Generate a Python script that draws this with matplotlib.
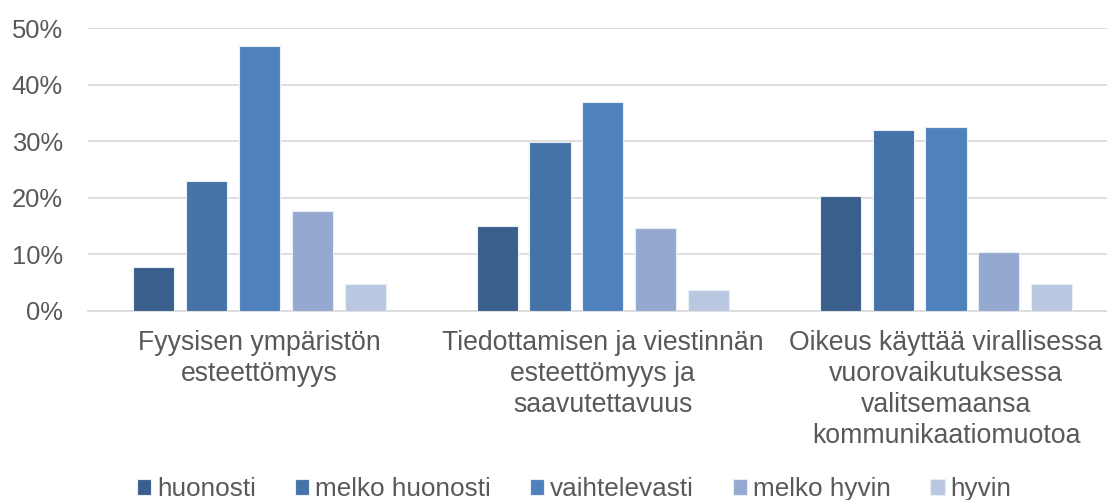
import matplotlib as mpl
import matplotlib.pyplot as plt
import numpy as np

mpl.rcParams['font.family'] = ['Liberation Sans', 'DejaVu Sans']

categories = ['Fyysisen ympäristön\nesteettömyys',
              'Tiedottamisen ja viestinnän\nesteettömyys ja\nsaavutettavuus',
              'Oikeus käyttää virallisessa\nvuorovaikutuksessa\nvalitsemaansa\nkommunikaatiomuotoa']
series = ['huonosti', 'melko huonosti', 'vaihtelevasti', 'melko hyvin', 'hyvin']
huonosti = [7.7, 15.1, 20.4]
melko_huonosti = [22.9, 29.9, 32.0]
vaihtelevasti = [46.9, 36.9, 32.5]
melko_hyvin = [17.6, 14.7, 10.4]
hyvin = [4.8, 3.7, 4.7]
yticks = [0, 10, 20, 30, 40, 50]

values = [huonosti, melko_huonosti, vaihtelevasti, melko_hyvin, hyvin]
colors = ['#3B5F8D', '#4573A7', '#4F81BD', '#95A9D0', '#BAC7E0']
text_color = '#595959'

fig = plt.figure(figsize=(11.07, 5.0), dpi=100)
ax = fig.add_axes([88 / 1107, 1 - 311 / 500, (1107 - 88) / 1107, (311 - 28) / 500])

x = np.arange(len(categories))
step = 0.154
width = 0.12
for i, (name, vals) in enumerate(zip(series, values)):
    ax.bar(x + (i - 2) * step, vals, width, color=colors[i], label=name,
           edgecolor='#E8EEF6', linewidth=0.8, zorder=3)

ax.set_xlim(-0.5, 2.469)
ax.set_ylim(0, 50)
ax.set_yticks(yticks)
ax.set_yticklabels(['%d%%' % v for v in yticks], fontsize=18.4)
ax.set_xticks(x)
ax.set_xticklabels(categories, fontsize=19.2, linespacing=1.24)
ax.tick_params(axis='both', length=0, labelcolor=text_color)
ax.tick_params(axis='y', pad=18)
ax.tick_params(axis='x', pad=14)
ax.grid(axis='y', color='#D9D9D9', linewidth=1.2, zorder=0)
for s in ['top', 'right', 'left']:
    ax.spines[s].set_visible(False)
ax.spines['bottom'].set_color('#D9D9D9')
ax.spines['bottom'].set_linewidth(1.2)

leg = fig.legend(loc='center', bbox_to_anchor=(574 / 1107, 1 - 489 / 500), ncol=5,
                 frameon=False, fontsize=18.8, handlelength=0.55, handleheight=0.55,
                 handletextpad=0.22, columnspacing=1.5, borderpad=0)
for t in leg.get_texts():
    t.set_color(text_color)

fig.savefig('out.png', dpi=100)
